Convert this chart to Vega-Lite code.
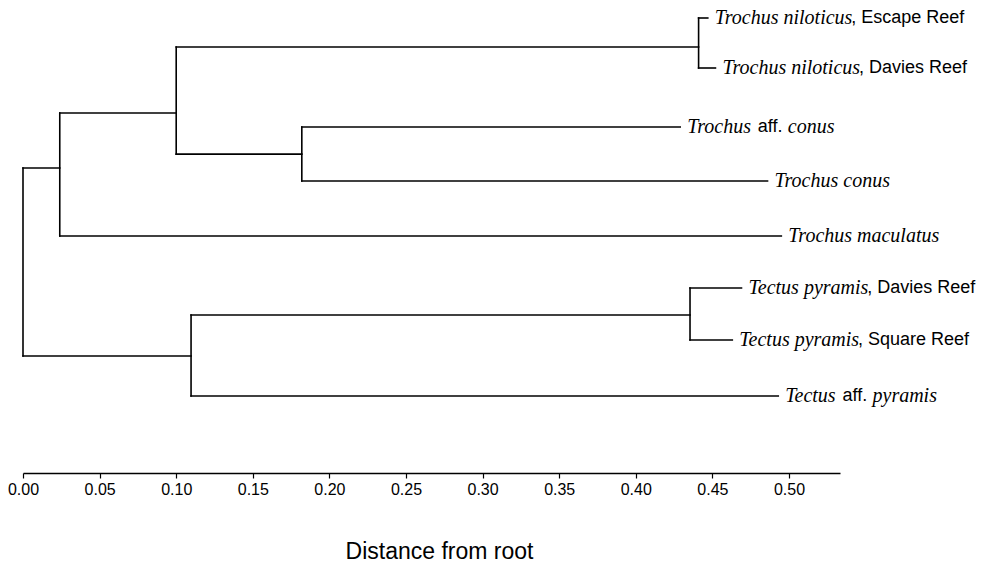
{
  "$schema": "https://vega.github.io/schema/vega-lite/v6.json",
  "autosize": "none",
  "width": 817,
  "height": 473,
  "padding": {"left": 23, "top": 0, "right": 145, "bottom": 92},
  "background": "white",
  "config": {"view": {"stroke": null}},
  "datasets": {
    "branches": [
      {"x": 0, "x2": 0, "y": 3.778, "y2": 7.259},
      {"x": 0, "x2": 0.024, "y": 3.778, "y2": 3.778},
      {"x": 0.024, "x2": 0.024, "y": 2.759, "y2": 5.037},
      {"x": 0.024, "x2": 0.495, "y": 5.037, "y2": 5.037},
      {"x": 0.024, "x2": 0.1, "y": 2.759, "y2": 2.759},
      {"x": 0.1, "x2": 0.1, "y": 1.537, "y2": 3.52},
      {"x": 0.1, "x2": 0.441, "y": 1.537, "y2": 1.537},
      {"x": 0.441, "x2": 0.441, "y": 1, "y2": 1.926},
      {"x": 0.441, "x2": 0.447, "y": 1, "y2": 1},
      {"x": 0.441, "x2": 0.452, "y": 1.926, "y2": 1.926},
      {"x": 0.1, "x2": 0.182, "y": 3.52, "y2": 3.52},
      {"x": 0.182, "x2": 0.182, "y": 3.019, "y2": 4.019},
      {"x": 0.182, "x2": 0.429, "y": 3.019, "y2": 3.019},
      {"x": 0.182, "x2": 0.486, "y": 4.019, "y2": 4.019},
      {"x": 0, "x2": 0.1097, "y": 7.259, "y2": 7.259},
      {"x": 0.1097, "x2": 0.1097, "y": 6.5, "y2": 8},
      {"x": 0.1097, "x2": 0.4354, "y": 6.5, "y2": 6.5},
      {"x": 0.4354, "x2": 0.4354, "y": 6, "y2": 6.963},
      {"x": 0.4354, "x2": 0.469, "y": 6, "y2": 6},
      {"x": 0.4354, "x2": 0.463, "y": 6.963, "y2": 6.963},
      {"x": 0.1097, "x2": 0.493, "y": 8, "y2": 8}
    ],
    "leaves": [
      {"x": 0.447, "y": 1, "a": "Trochus niloticus", "b": ", Escape Reef", "c": ""},
      {"x": 0.452, "y": 1.926, "a": "Trochus niloticus", "b": ", Davies Reef", "c": ""},
      {"x": 0.429, "y": 3.019, "a": "Trochus", "b": "aff.", "c": "conus"},
      {"x": 0.486, "y": 4.019, "a": "Trochus conus", "b": "", "c": ""},
      {"x": 0.495, "y": 5.037, "a": "Trochus maculatus", "b": "", "c": ""},
      {"x": 0.469, "y": 6, "a": "Tectus pyramis", "b": ", Davies Reef", "c": ""},
      {"x": 0.463, "y": 6.963, "a": "Tectus pyramis", "b": ", Square Reef", "c": ""},
      {"x": 0.493, "y": 8, "a": "Tectus", "b": "aff.", "c": "pyramis"}
    ]
  },
  "encoding": {
    "x": {
      "field": "x",
      "type": "quantitative",
      "scale": {"domain": [0, 0.5333], "nice": false, "zero": false},
      "axis": {
        "values": [0, 0.05, 0.1, 0.15, 0.2, 0.25, 0.3, 0.35, 0.4, 0.45, 0.5],
        "format": ".2f",
        "title": "Distance from root",
        "grid": false,
        "domainColor": "black",
        "domainWidth": 1.5,
        "tickColor": "black",
        "tickSize": 5,
        "tickWidth": 1.2,
        "labelFont": "Liberation Sans",
        "labelFontSize": 16,
        "labelColor": "black",
        "labelPadding": 3,
        "labelFlush": false,
        "titleFont": "Liberation Sans",
        "titleFontSize": 23,
        "titleFontWeight": "normal",
        "titleColor": "black",
        "titlePadding": 43,
        "titleX": 416
      }
    },
    "y": {
      "field": "y",
      "type": "quantitative",
      "scale": {"domain": [0.6667, 9.4259], "reverse": true, "nice": false, "zero": false},
      "axis": null
    }
  },
  "layer": [
    {
      "data": {"name": "branches"},
      "mark": {"type": "rule", "color": "black", "strokeWidth": 1.6, "strokeCap": "square"},
      "encoding": {"x2": {"field": "x2"}, "y2": {"field": "y2"}}
    },
    {
      "data": {"name": "leaves"},
      "mark": {"type": "text", "align": "left", "baseline": "middle", "font": "Liberation Serif", "fontStyle": "italic", "fontSize": 20, "color": "black", "dx": 7},
      "encoding": {"text": {"field": "a"}}
    },
    {
      "data": {"name": "leaves"},
      "mark": {"type": "text", "align": "left", "baseline": "middle", "font": "Liberation Sans", "fontSize": 18, "color": "black",
        "dx": {"expr": "7 + 20*(0.5*length(datum.a)-0.222*(length(datum.a)-length(replace(datum.a,regexp('[iltjf]','g'),'')))-0.111*(length(datum.a)-length(replace(datum.a,regexp('[rs]','g'),'')))-0.056*(length(datum.a)-length(replace(datum.a,regexp('[cey]','g'),'')))+0.222*(length(datum.a)-length(replace(datum.a,regexp('m','g'),'')))+0.056*(length(datum.a)-length(replace(datum.a,regexp('T','g'),'')))-0.25*(length(datum.a)-length(replace(datum.a,regexp('[ .,]','g'),'')))) + (indexof(datum.b, ',') == 0 ? -3 : 5)"}},
      "encoding": {"text": {"field": "b"}}
    },
    {
      "data": {"name": "leaves"},
      "mark": {"type": "text", "align": "left", "baseline": "middle", "font": "Liberation Serif", "fontStyle": "italic", "fontSize": 20, "color": "black",
        "dx": {"expr": "7 + 20*(0.5*length(datum.a)-0.222*(length(datum.a)-length(replace(datum.a,regexp('[iltjf]','g'),'')))-0.111*(length(datum.a)-length(replace(datum.a,regexp('[rs]','g'),'')))-0.056*(length(datum.a)-length(replace(datum.a,regexp('[cey]','g'),'')))+0.222*(length(datum.a)-length(replace(datum.a,regexp('m','g'),'')))+0.056*(length(datum.a)-length(replace(datum.a,regexp('T','g'),'')))-0.25*(length(datum.a)-length(replace(datum.a,regexp('[ .,]','g'),'')))) + 5 + 18*(0.556*length(datum.b)-0.334*(length(datum.b)-length(replace(datum.b,regexp('[ijl]','g'),'')))-0.278*(length(datum.b)-length(replace(datum.b,regexp('[ft., ]','g'),'')))-0.223*(length(datum.b)-length(replace(datum.b,regexp('r','g'),'')))-0.056*(length(datum.b)-length(replace(datum.b,regexp('[sczv]','g'),'')))+0.111*(length(datum.b)-length(replace(datum.b,regexp('[EPS]','g'),'')))+0.166*(length(datum.b)-length(replace(datum.b,regexp('[DRUC]','g'),'')))) + 5"}},
      "encoding": {"text": {"field": "c"}}
    }
  ]
}
